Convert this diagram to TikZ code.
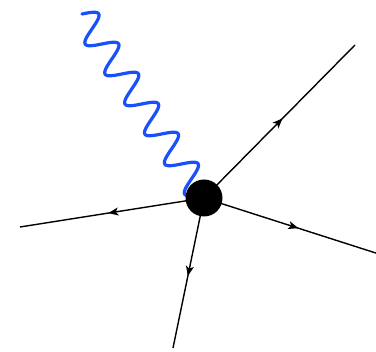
\documentclass[tikz,border=0pt]{standalone}
\usetikzlibrary{decorations.markings,arrows.meta,backgrounds}
\definecolor{photonblue}{RGB}{24,80,252}
\tikzset{
  vertexdot/.style={circle,fill=black,draw=none,minimum size=37pt,inner sep=0pt},
  fermion/.style={line width=1.4pt,postaction={decorate},
    decoration={markings,mark=at position #1 with {\arrow{Stealth[length=10pt,width=8pt,inset=2.5pt]}}}},
  fermion/.default=0.52,
  photon/.style={photonblue,line width=3.2pt,line join=round,line cap=round}
}
\begin{document}
\begin{tikzpicture}[x=1pt,y=-1pt]
\useasboundingbox (0,0) rectangle (376,352);
\clip (0,0) rectangle (376,352);
\node[vertexdot] (v) at (204,198) {};
\coordinate (p) at (82,14);
\coordinate (ur) at (355,45);
\coordinate (l) at (20,227);
\coordinate (d) at (173,348);
\coordinate (r) at (382,255);
\begin{scope}[on background layer]
\draw[photon] plot[variable=\t,domain=0:216,samples=240,smooth]
  ({82+0.5525*\t+14*0.8333*sin(10*\t)},{14+0.8333*\t-14*0.5525*sin(10*\t)});
\draw[fermion=0.52] (v.center) -- (ur);
\draw[fermion=0.52] (v.center) -- (l);
\draw[fermion=0.52] (v.center) -- (d);
\draw[fermion=0.53] (v.center) -- (r);
\end{scope}
\end{tikzpicture}
\end{document}
